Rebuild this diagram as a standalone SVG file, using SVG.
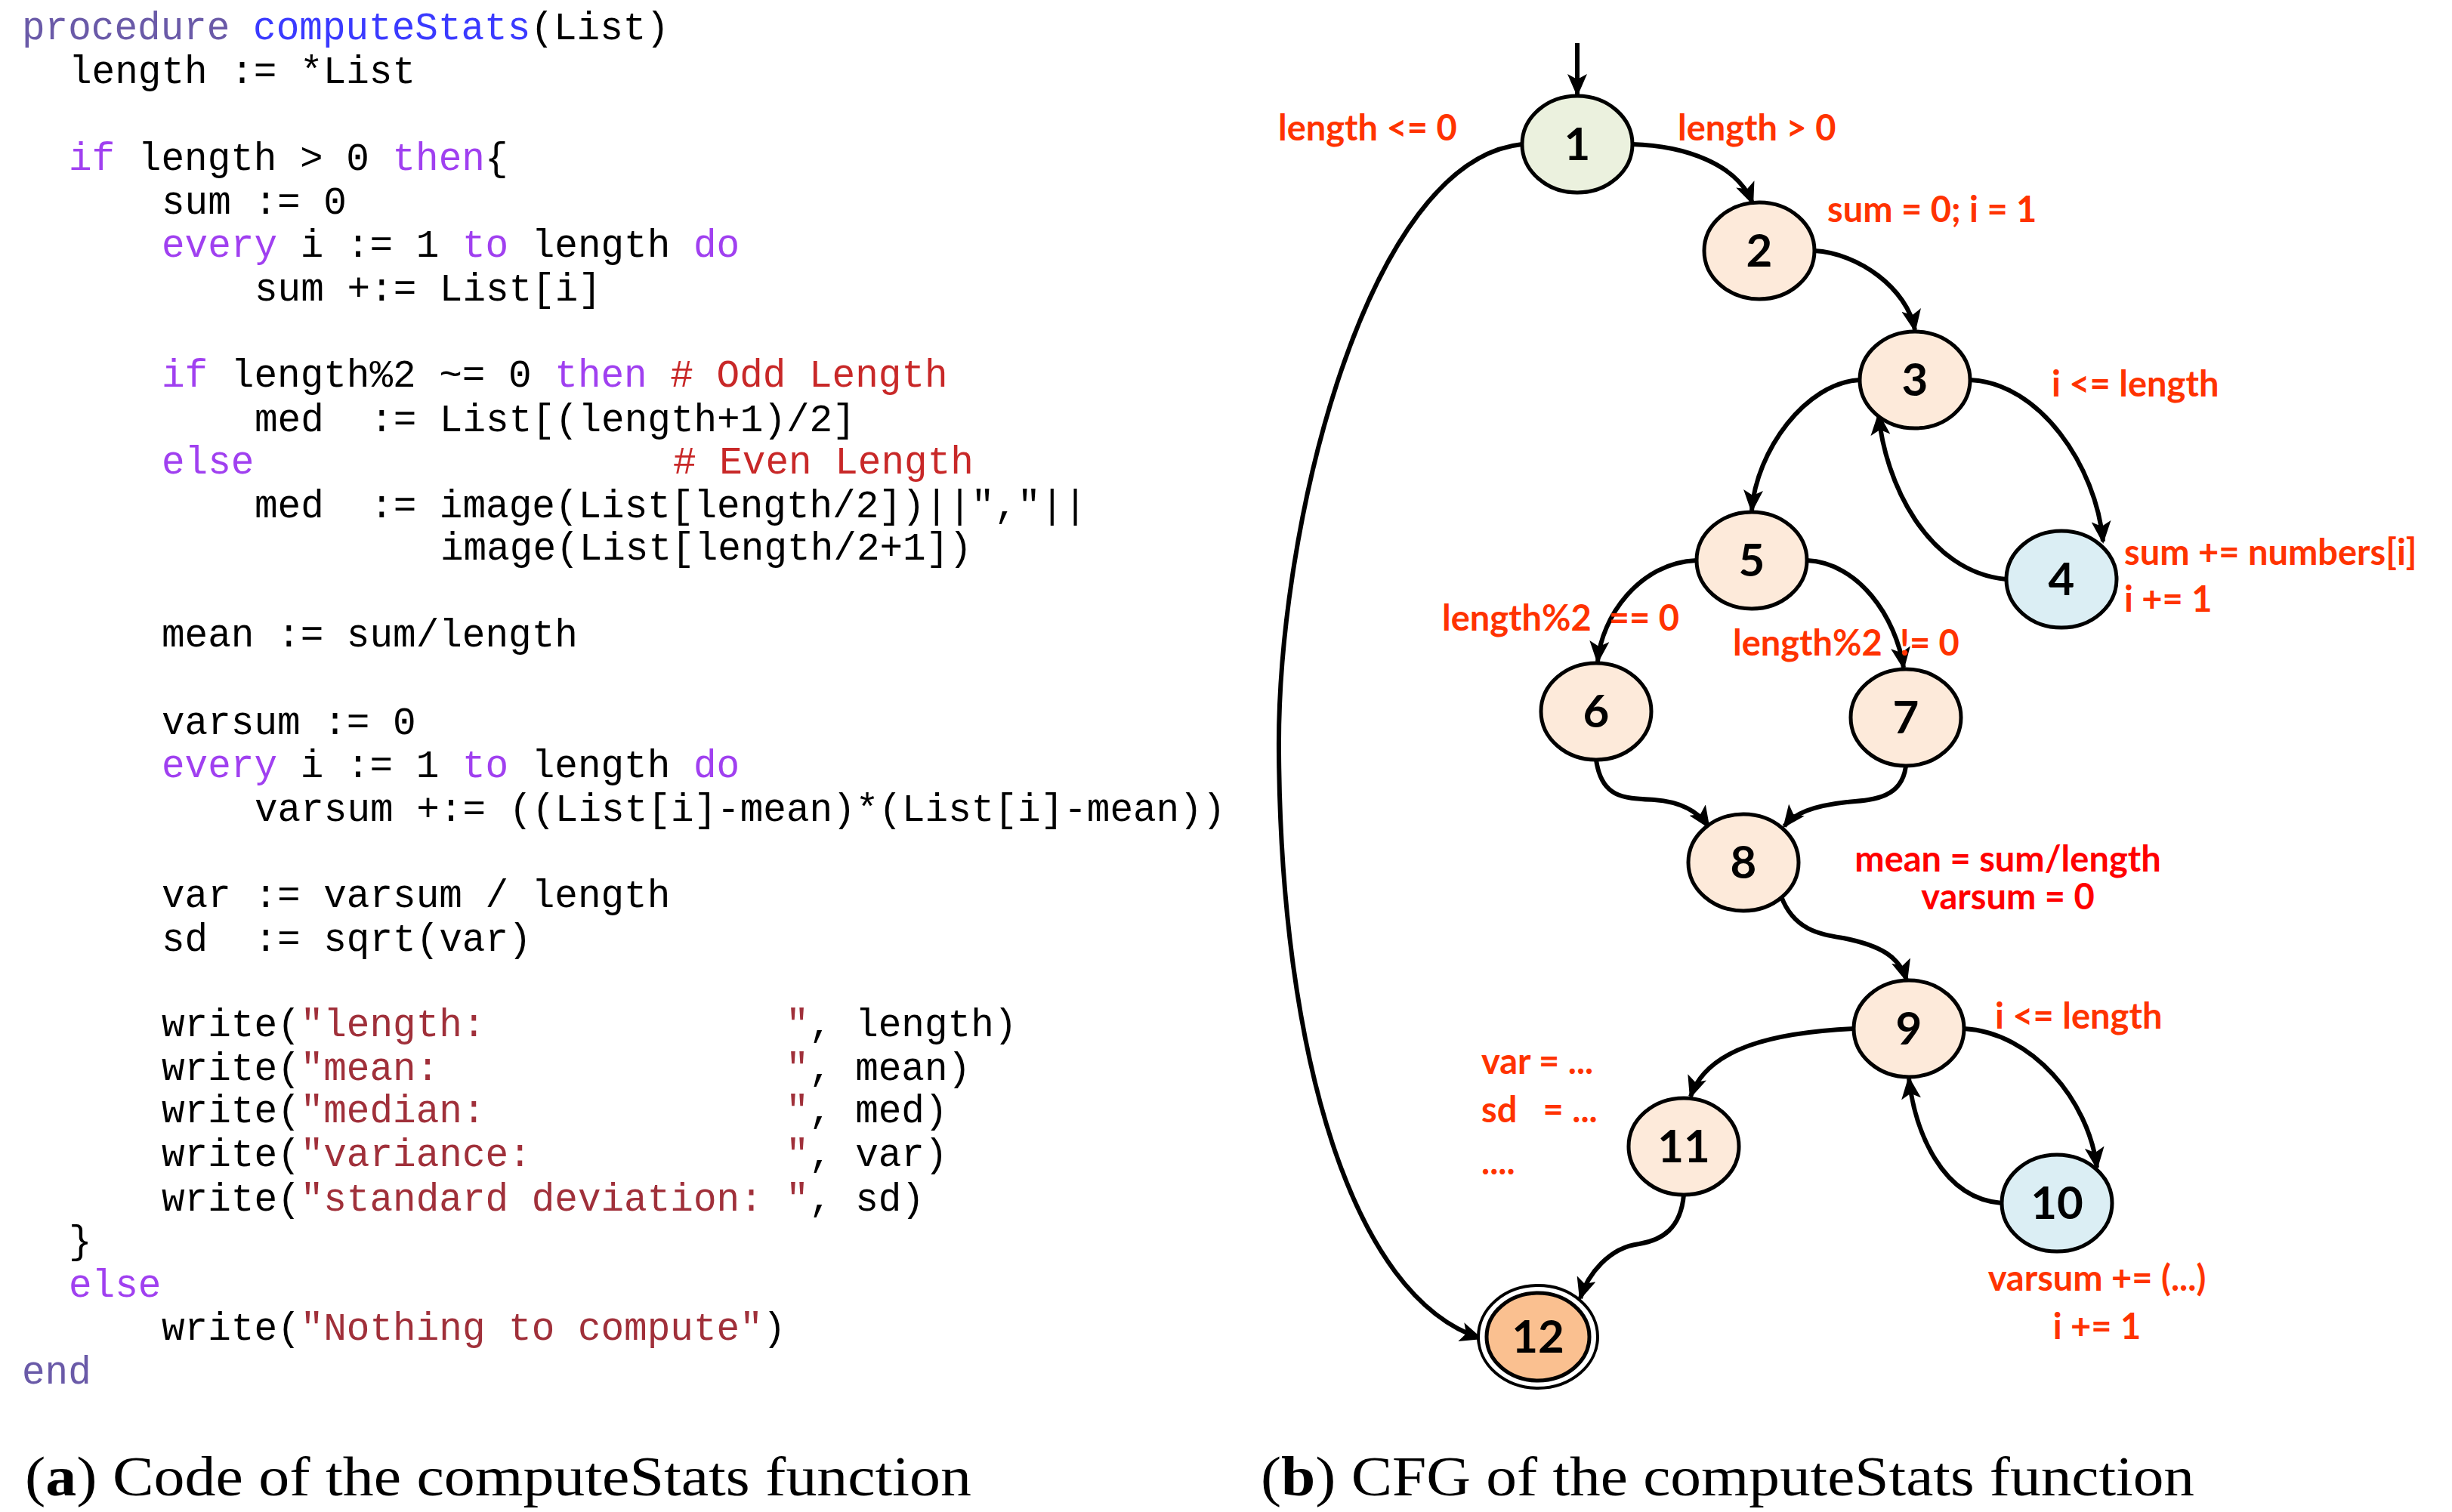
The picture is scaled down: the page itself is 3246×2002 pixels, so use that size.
<svg xmlns="http://www.w3.org/2000/svg" width="3246" height="2002" viewBox="0 0 3246 2002">
<defs>
<marker id="ah" markerUnits="userSpaceOnUse" markerWidth="30" markerHeight="26" refX="27" refY="13" orient="auto"><path d="M0,0 L30,13 L0,26 L7,13 Z" fill="#000"/></marker>
<style>
.code{font-family:"Liberation Mono",monospace;font-size:51px;fill:#000}
.kw{fill:#a040f0}.pr{fill:#6a5aa8}.fn{fill:#3a3aff}.cm{fill:#c82828}.st{fill:#a0303a}
.cap{font-family:"Liberation Serif",serif;font-size:74px;fill:#000}
.n{stroke:#000;stroke-width:5}
.nt{font-family:Lato,"Open Sans",sans-serif;font-weight:bold;font-size:60px;fill:#000;text-anchor:middle}
.lb{font-family:Lato,"Open Sans",sans-serif;font-weight:bold;font-size:47px;fill:#ff3300}
.lr{fill:#ff0000}
.e{fill:none;stroke:#000;stroke-width:6;marker-end:url(#ah)}
</style>
</defs>
<rect width="3246" height="2002" fill="#fff"/>
<g id="code" class="code">
<text x="29" y="52"><tspan class="pr">procedure</tspan> <tspan class="fn">computeStats</tspan>(List)</text>
<text x="91" y="110">length := *List</text>
<text x="91" y="225"><tspan class="kw">if</tspan> length &gt; 0 <tspan class="kw">then</tspan>{</text>
<text x="214" y="283">sum := 0</text>
<text x="214" y="340"><tspan class="kw">every</tspan> i := 1 <tspan class="kw">to</tspan> length <tspan class="kw">do</tspan></text>
<text x="337" y="398">sum +:= List[i]</text>
<text x="214" y="512"><tspan class="kw">if</tspan> length%2 ~= 0 <tspan class="kw">then</tspan> <tspan class="cm"># Odd Length</tspan></text>
<text x="337" y="571">med&#160;&#160;:= List[(length+1)/2]</text>
<text x="214" y="627"><tspan class="kw">else</tspan></text>
<text x="891" y="627" class="cm"># Even Length</text>
<text x="337" y="685">med&#160;&#160;:= image(List[length/2])||","||</text>
<text x="583" y="741">image(List[length/2+1])</text>
<text x="214" y="856">mean := sum/length</text>
<text x="214" y="972">varsum := 0</text>
<text x="214" y="1029"><tspan class="kw">every</tspan> i := 1 <tspan class="kw">to</tspan> length <tspan class="kw">do</tspan></text>
<text x="337" y="1087">varsum +:= ((List[i]-mean)*(List[i]-mean))</text>
<text x="214" y="1201">var := varsum / length</text>
<text x="214" y="1259">sd&#160;&#160;:= sqrt(var)</text>
<text x="214" y="1372">write(<tspan class="st">"length:&#160;&#160;&#160;&#160;&#160;&#160;&#160;&#160;&#160;&#160;&#160;&#160;&#160;"</tspan>, length)</text>
<text x="214" y="1430">write(<tspan class="st">"mean:&#160;&#160;&#160;&#160;&#160;&#160;&#160;&#160;&#160;&#160;&#160;&#160;&#160;&#160;&#160;"</tspan>, mean)</text>
<text x="214" y="1486">write(<tspan class="st">"median:&#160;&#160;&#160;&#160;&#160;&#160;&#160;&#160;&#160;&#160;&#160;&#160;&#160;"</tspan>, med)</text>
<text x="214" y="1544">write(<tspan class="st">"variance:&#160;&#160;&#160;&#160;&#160;&#160;&#160;&#160;&#160;&#160;&#160;"</tspan>, var)</text>
<text x="214" y="1603">write(<tspan class="st">"standard deviation:&#160;"</tspan>, sd)</text>
<text x="91" y="1659">}</text>
<text x="91" y="1717"><tspan class="kw">else</tspan></text>
<text x="214" y="1774">write(<tspan class="st">"Nothing to compute"</tspan>)</text>
<text x="29" y="1832"><tspan class="pr">end</tspan></text>
</g>
<g id="captions">
<text class="cap" x="33" y="1980" textLength="1253" lengthAdjust="spacingAndGlyphs">(<tspan font-weight="bold">a</tspan>) Code of the computeStats function</text>
<text class="cap" x="1669" y="1980" textLength="1236" lengthAdjust="spacingAndGlyphs">(<tspan font-weight="bold">b</tspan>) CFG of the computeStats function</text>
</g>
<g transform="translate(-10,-3)">
<g id="connectors">
<path class="e" d="M2098,60 L2098,128"/>
<path class="e" d="M2171,194 C2240,196 2310,220 2330,272"/>
<path class="e" d="M2025,194 C1820,215 1700,700 1703,1000 C1706,1400 1800,1720 1970,1775"/>
<path class="e" d="M2412,335 C2470,338 2535,385 2545,440"/>
<path class="e" d="M2472,506 C2400,510 2335,600 2329,679"/>
<path class="e" d="M2618,506 C2710,510 2785,620 2794,720"/>
<path class="e" d="M2666,770 C2560,760 2505,640 2497,552"/>
<path class="e" d="M2256,745 C2180,748 2130,820 2125,879"/>
<path class="e" d="M2402,745 C2470,748 2520,820 2530,887"/>
<path class="e" d="M2123,1009 C2130,1060 2160,1060 2200,1062 C2240,1065 2260,1080 2272,1098"/>
<path class="e" d="M2533,1017 C2528,1060 2490,1062 2455,1065 C2410,1070 2385,1080 2372,1097"/>
<path class="e" d="M2368,1190 C2385,1235 2420,1240 2450,1245 C2500,1255 2525,1270 2534,1301"/>
<path class="e" d="M2464,1365 C2360,1370 2270,1390 2248,1455"/>
<path class="e" d="M2610,1365 C2700,1370 2775,1460 2786,1549"/>
<path class="e" d="M2660,1596 C2580,1590 2545,1500 2537,1431"/>
<path class="e" d="M2239,1585 C2235,1630 2210,1645 2180,1650 C2140,1655 2112,1690 2102,1722"/>
</g>
<g id="n1"><ellipse class="n" cx="2098" cy="194" rx="73" ry="64" fill="#ebf1de"/><text class="nt" x="2098" y="215">1</text></g>
<g id="n2"><ellipse class="n" cx="2339" cy="335" rx="73" ry="64" fill="#fdeada"/><text class="nt" x="2339" y="356">2</text></g>
<g id="n3"><ellipse class="n" cx="2545" cy="506" rx="73" ry="64" fill="#fdeada"/><text class="nt" x="2545" y="527">3</text></g>
<g id="n4"><ellipse class="n" cx="2739" cy="770" rx="73" ry="64" fill="#dbeef4"/><text class="nt" x="2739" y="791">4</text></g>
<g id="n5"><ellipse class="n" cx="2329" cy="745" rx="73" ry="64" fill="#fdeada"/><text class="nt" x="2329" y="766">5</text></g>
<g id="n6"><ellipse class="n" cx="2123" cy="945" rx="73" ry="64" fill="#fdeada"/><text class="nt" x="2123" y="966">6</text></g>
<g id="n7"><ellipse class="n" cx="2533" cy="953" rx="73" ry="64" fill="#fdeada"/><text class="nt" x="2533" y="974">7</text></g>
<g id="n8"><ellipse class="n" cx="2318" cy="1145" rx="73" ry="64" fill="#fdeada"/><text class="nt" x="2318" y="1166">8</text></g>
<g id="n9"><ellipse class="n" cx="2537" cy="1365" rx="73" ry="64" fill="#fdeada"/><text class="nt" x="2537" y="1386">9</text></g>
<g id="n10"><ellipse class="n" cx="2733" cy="1596" rx="73" ry="64" fill="#dbeef4"/><text class="nt" x="2733" y="1617">10</text></g>
<g id="n11"><ellipse class="n" cx="2239" cy="1521" rx="73" ry="64" fill="#fdeada"/><text class="nt" x="2239" y="1542">11</text></g>
<g id="n12"><ellipse cx="2046" cy="1773" rx="79" ry="68" fill="#fff" stroke="#000" stroke-width="4"/><ellipse class="n" cx="2046" cy="1773" rx="68" ry="58" fill="#fac090"/><text class="nt" x="2046" y="1794">12</text></g>
<g id="labels" class="lb">
<text x="1702" y="189">length &lt;= 0</text>
<text x="2231" y="189">length &gt; 0</text>
<text x="2429" y="297">sum = 0; i = 1</text>
<text x="2726" y="528">i &lt;= length</text>
<text x="2822" y="751">sum += numbers[i]</text>
<text x="2822" y="813">i += 1</text>
<text x="1919" y="838">length%2&#160;&#160;== 0</text>
<text x="2304" y="871">length%2&#160;&#160;!= 0</text>
<text class="lr" x="2668" y="1157" text-anchor="middle">mean = sum/length</text>
<text class="lr" x="2668" y="1207" text-anchor="middle">varsum = 0</text>
<text x="2651" y="1365">i &lt;= length</text>
<text x="1971" y="1425">var = ...</text>
<text x="1971" y="1489">sd&#160;&#160;&#160;= ...</text>
<text x="1971" y="1558">....</text>
<text x="2786" y="1712" text-anchor="middle">varsum += (...)</text>
<text x="2786" y="1776" text-anchor="middle">i += 1</text>
</g>
</g>
</svg>
